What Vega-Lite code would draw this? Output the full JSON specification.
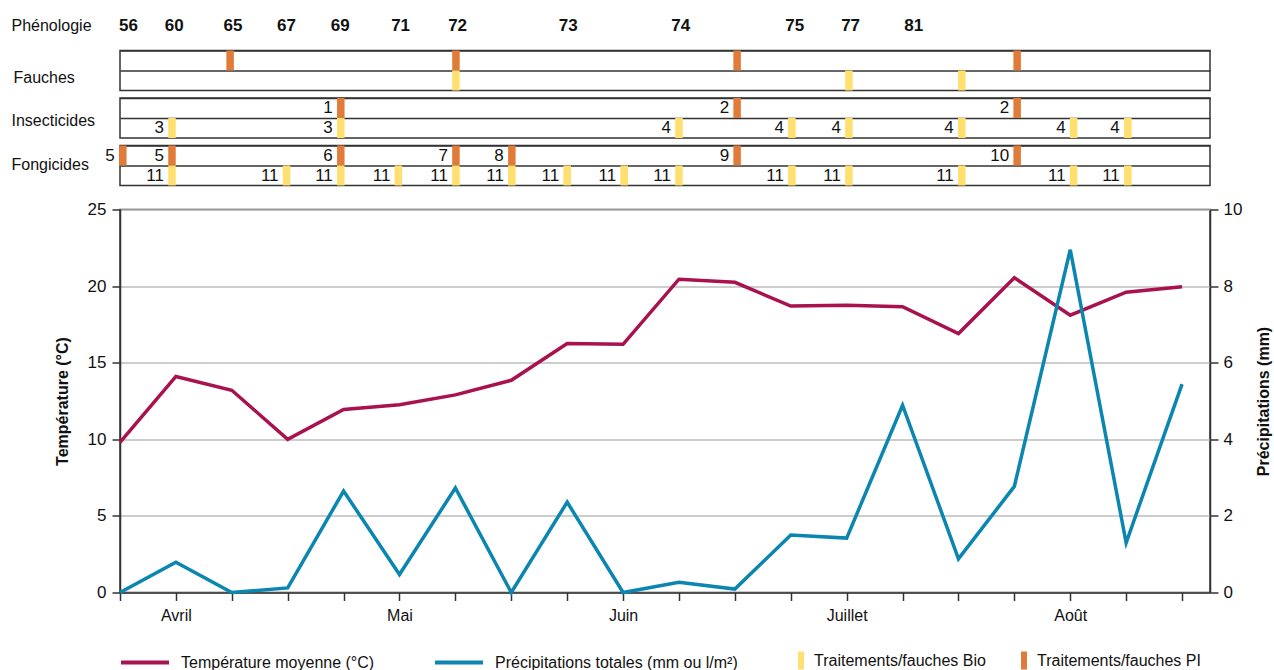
{
  "$schema": "https://vega.github.io/schema/vega-lite/v6.json",
  "padding": {"left": 10, "top": 8, "right": 5, "bottom": 5},
  "bounds": "flush",
  "spacing": 7.5,
  "config": {
    "font": "Liberation Sans",
    "view": {"stroke": "#333", "strokeWidth": 1.5},
    "axis": {"labelColor": "#111", "titleColor": "#111", "domainColor": "#333", "tickColor": "#333"},
    "legend": {"labelColor": "#111"}
  },
  "datasets": {
    "meteo": [
      {"semaine": 0, "temperature": 9.8, "precipitation": 0.0},
      {"semaine": 1, "temperature": 14.1, "precipitation": 0.79},
      {"semaine": 2, "temperature": 13.2, "precipitation": 0.0},
      {"semaine": 3, "temperature": 10.0, "precipitation": 0.12},
      {"semaine": 4, "temperature": 11.95, "precipitation": 2.65},
      {"semaine": 5, "temperature": 12.25, "precipitation": 0.47},
      {"semaine": 6, "temperature": 12.9, "precipitation": 2.73},
      {"semaine": 7, "temperature": 13.85, "precipitation": 0.0},
      {"semaine": 8, "temperature": 16.25, "precipitation": 2.36},
      {"semaine": 9, "temperature": 16.2, "precipitation": 0.0},
      {"semaine": 10, "temperature": 20.45, "precipitation": 0.27},
      {"semaine": 11, "temperature": 20.25, "precipitation": 0.09},
      {"semaine": 12, "temperature": 18.7, "precipitation": 1.5},
      {"semaine": 13, "temperature": 18.75, "precipitation": 1.42},
      {"semaine": 14, "temperature": 18.65, "precipitation": 4.89},
      {"semaine": 15, "temperature": 16.9, "precipitation": 0.88},
      {"semaine": 16, "temperature": 20.55, "precipitation": 2.77},
      {"semaine": 17, "temperature": 18.1, "precipitation": 8.95},
      {"semaine": 18, "temperature": 19.6, "precipitation": 1.3},
      {"semaine": 19, "temperature": 19.95, "precipitation": 5.44}
    ],
    "phenologie": [
      {"semaine": 0.15, "stade": "56"},
      {"semaine": 0.97, "stade": "60"},
      {"semaine": 2.02, "stade": "65"},
      {"semaine": 2.98, "stade": "67"},
      {"semaine": 3.94, "stade": "69"},
      {"semaine": 5.02, "stade": "71"},
      {"semaine": 6.04, "stade": "72"},
      {"semaine": 8.02, "stade": "73"},
      {"semaine": 10.03, "stade": "74"},
      {"semaine": 12.07, "stade": "75"},
      {"semaine": 13.07, "stade": "77"},
      {"semaine": 14.2, "stade": "81"}
    ],
    "traitements": [
      {"categorie": "Fauches", "type": "PI", "semaine": 1.97, "produit": ""},
      {"categorie": "Fauches", "type": "PI", "semaine": 6.01, "produit": ""},
      {"categorie": "Fauches", "type": "PI", "semaine": 11.04, "produit": ""},
      {"categorie": "Fauches", "type": "PI", "semaine": 16.05, "produit": ""},
      {"categorie": "Fauches", "type": "Bio", "semaine": 6.01, "produit": ""},
      {"categorie": "Fauches", "type": "Bio", "semaine": 13.04, "produit": ""},
      {"categorie": "Fauches", "type": "Bio", "semaine": 15.06, "produit": ""},
      {"categorie": "Insecticides", "type": "PI", "semaine": 3.95, "produit": "1"},
      {"categorie": "Insecticides", "type": "PI", "semaine": 11.04, "produit": "2"},
      {"categorie": "Insecticides", "type": "PI", "semaine": 16.05, "produit": "2"},
      {"categorie": "Insecticides", "type": "Bio", "semaine": 0.93, "produit": "3"},
      {"categorie": "Insecticides", "type": "Bio", "semaine": 3.95, "produit": "3"},
      {"categorie": "Insecticides", "type": "Bio", "semaine": 10.0, "produit": "4"},
      {"categorie": "Insecticides", "type": "Bio", "semaine": 12.02, "produit": "4"},
      {"categorie": "Insecticides", "type": "Bio", "semaine": 13.04, "produit": "4"},
      {"categorie": "Insecticides", "type": "Bio", "semaine": 15.06, "produit": "4"},
      {"categorie": "Insecticides", "type": "Bio", "semaine": 17.06, "produit": "4"},
      {"categorie": "Insecticides", "type": "Bio", "semaine": 18.03, "produit": "4"},
      {"categorie": "Fongicides", "type": "PI", "semaine": 0.05, "produit": "5"},
      {"categorie": "Fongicides", "type": "PI", "semaine": 0.93, "produit": "5"},
      {"categorie": "Fongicides", "type": "PI", "semaine": 3.95, "produit": "6"},
      {"categorie": "Fongicides", "type": "PI", "semaine": 6.01, "produit": "7"},
      {"categorie": "Fongicides", "type": "PI", "semaine": 7.01, "produit": "8"},
      {"categorie": "Fongicides", "type": "PI", "semaine": 11.04, "produit": "9"},
      {"categorie": "Fongicides", "type": "PI", "semaine": 16.05, "produit": "10"},
      {"categorie": "Fongicides", "type": "Bio", "semaine": 0.93, "produit": "11"},
      {"categorie": "Fongicides", "type": "Bio", "semaine": 2.98, "produit": "11"},
      {"categorie": "Fongicides", "type": "Bio", "semaine": 3.95, "produit": "11"},
      {"categorie": "Fongicides", "type": "Bio", "semaine": 4.98, "produit": "11"},
      {"categorie": "Fongicides", "type": "Bio", "semaine": 6.01, "produit": "11"},
      {"categorie": "Fongicides", "type": "Bio", "semaine": 7.01, "produit": "11"},
      {"categorie": "Fongicides", "type": "Bio", "semaine": 8.0, "produit": "11"},
      {"categorie": "Fongicides", "type": "Bio", "semaine": 9.02, "produit": "11"},
      {"categorie": "Fongicides", "type": "Bio", "semaine": 10.0, "produit": "11"},
      {"categorie": "Fongicides", "type": "Bio", "semaine": 12.02, "produit": "11"},
      {"categorie": "Fongicides", "type": "Bio", "semaine": 13.04, "produit": "11"},
      {"categorie": "Fongicides", "type": "Bio", "semaine": 15.06, "produit": "11"},
      {"categorie": "Fongicides", "type": "Bio", "semaine": 17.06, "produit": "11"},
      {"categorie": "Fongicides", "type": "Bio", "semaine": 18.03, "produit": "11"}
    ]
  },
  "vconcat": [
    {
      "width": 1090,
      "height": 35,
      "view": {"stroke": null},
      "data": {"name": "phenologie"},
      "mark": {"type": "text", "fontSize": 17, "fontWeight": "bold", "baseline": "middle", "color": "#111"},
      "encoding": {
        "x": {"field": "semaine", "type": "quantitative", "scale": {"domain": [0, 19.5], "nice": false, "zero": false}, "axis": null},
        "y": {"datum": "Phénologie", "type": "nominal", "axis": {"title": null, "labels": true, "ticks": false, "tickSize": 0, "domain": false, "labelAlign": "left", "labelPadding": 109, "labelFontSize": 16, "labelBaseline": "middle"}},
        "text": {"field": "stade"}
      }
    },
    {
      "width": 1090,
      "height": 40,
      "data": {"name": "traitements"},
      "transform": [{"filter": "datum.categorie === 'Fauches'"}],
      "encoding": {
        "x": {"field": "semaine", "type": "quantitative", "scale": {"domain": [0, 19.5], "nice": false, "zero": false}, "axis": null},
        "y": {"field": "type", "type": "nominal", "scale": {"type": "band", "domain": ["PI", "Bio"], "paddingInner": 0, "paddingOuter": 0}, "axis": {"title": "Fauches", "labels": false, "ticks": false, "domain": false, "grid": true, "gridColor": "#333", "gridWidth": 1.5, "bandPosition": 0, "titleAngle": 0, "titleAlign": "left", "titleBaseline": "middle", "titleX": -107, "titleY": 27, "titleFontSize": 16, "titleFontWeight": "normal"}}
      },
      "layer": [
        {"mark": {"type": "tick", "thickness": 7.5, "size": 20, "opacity": 1}, "encoding": {"color": {"field": "type", "type": "nominal", "scale": {"domain": ["Bio", "PI"], "range": ["#FFDF6E", "#E07B39"]}, "legend": {"title": null, "orient": "none", "legendX": 672, "legendY": 643.5, "direction": "horizontal", "symbolType": "M-0.33,-1H0.33V1H-0.33Z", "symbolSize": 324, "symbolStrokeWidth": 0, "symbolOpacity": 1, "labelExpr": "'Traitements/fauches ' + datum.label", "labelFontSize": 16, "labelOffset": 4, "labelLimit": 400, "columnPadding": 29}}}},
        {"mark": {"type": "text", "align": "right", "baseline": "middle", "dx": -8, "fontSize": 17, "color": "#111"}, "encoding": {"text": {"field": "produit"}}}
      ]
    },
    {
      "width": 1090,
      "height": 40,
      "data": {"name": "traitements"},
      "transform": [{"filter": "datum.categorie === 'Insecticides'"}],
      "encoding": {
        "x": {"field": "semaine", "type": "quantitative", "scale": {"domain": [0, 19.5], "nice": false, "zero": false}, "axis": null},
        "y": {"field": "type", "type": "nominal", "scale": {"type": "band", "domain": ["PI", "Bio"], "paddingInner": 0, "paddingOuter": 0}, "axis": {"title": "Insecticides", "labels": false, "ticks": false, "domain": false, "grid": true, "gridColor": "#333", "gridWidth": 1.5, "bandPosition": 0, "titleAngle": 0, "titleAlign": "left", "titleBaseline": "middle", "titleX": -109, "titleY": 22, "titleFontSize": 16, "titleFontWeight": "normal"}}
      },
      "layer": [
        {"mark": {"type": "tick", "thickness": 7.5, "size": 20, "opacity": 1}, "encoding": {"color": {"field": "type", "type": "nominal", "scale": {"domain": ["Bio", "PI"], "range": ["#FFDF6E", "#E07B39"]}}}},
        {"mark": {"type": "text", "align": "right", "baseline": "middle", "dx": -8, "fontSize": 17, "color": "#111"}, "encoding": {"text": {"field": "produit"}}}
      ]
    },
    {
      "width": 1090,
      "height": 40,
      "data": {"name": "traitements"},
      "transform": [{"filter": "datum.categorie === 'Fongicides'"}],
      "encoding": {
        "x": {"field": "semaine", "type": "quantitative", "scale": {"domain": [0, 19.5], "nice": false, "zero": false}, "axis": null},
        "y": {"field": "type", "type": "nominal", "scale": {"type": "band", "domain": ["PI", "Bio"], "paddingInner": 0, "paddingOuter": 0}, "axis": {"title": "Fongicides", "labels": false, "ticks": false, "domain": false, "grid": true, "gridColor": "#333", "gridWidth": 1.5, "bandPosition": 0, "titleAngle": 0, "titleAlign": "left", "titleBaseline": "middle", "titleX": -109, "titleY": 19, "titleFontSize": 16, "titleFontWeight": "normal"}}
      },
      "layer": [
        {"mark": {"type": "tick", "thickness": 7.5, "size": 20, "opacity": 1}, "encoding": {"color": {"field": "type", "type": "nominal", "scale": {"domain": ["Bio", "PI"], "range": ["#FFDF6E", "#E07B39"]}}}},
        {"mark": {"type": "text", "align": "right", "baseline": "middle", "dx": -8, "fontSize": 17, "color": "#111"}, "encoding": {"text": {"field": "produit"}}}
      ]
    },
    {
      "width": 1090,
      "height": 9,
      "view": {"stroke": null},
      "data": {"values": []},
      "mark": "point",
      "encoding": {}
    },
    {
      "width": 1090,
      "height": 383,
      "data": {"name": "meteo"},
      "encoding": {
        "x": {"field": "semaine", "type": "quantitative", "scale": {"domain": [0, 19.5], "nice": false, "zero": false}, "axis": {"values": [0,1,2,3,4,5,6,7,8,9,10,11,12,13,14,15,16,17,18,19], "tickSize": 8, "tickWidth": 1.5, "domainWidth": 1.5, "grid": false, "title": null, "labelExpr": "datum.value == 1 ? 'Avril' : datum.value == 5 ? 'Mai' : datum.value == 9 ? 'Juin' : datum.value == 13 ? 'Juillet' : datum.value == 17 ? 'Août' : ''", "labelFontSize": 16, "labelPadding": 7, "labelFlush": false, "labelOverlap": false, "labelBound": false}}
      },
      "layer": [
        {
          "mark": {"type": "line", "strokeWidth": 3.5},
          "encoding": {
            "y": {"field": "temperature", "type": "quantitative", "scale": {"domain": [0, 25], "nice": false}, "axis": {"orient": "left", "values": [0,5,10,15,20,25], "grid": true, "gridColor": "#bdbdbd", "gridWidth": 1.5, "tickSize": 8, "tickWidth": 1.5, "domainWidth": 1.5, "labelFontSize": 17, "labelPadding": 6, "title": "Température (°C)", "titleFontSize": 16, "titleFontWeight": "bold", "titlePadding": 17}},
            "stroke": {"datum": "Température moyenne (°C)", "type": "nominal", "scale": {"domain": ["Température moyenne (°C)", "Précipitations totales (mm ou l/m²)"], "range": ["#A8124F", "#0A86B0"]}, "legend": {"title": null, "orient": "none", "legendX": -1, "legendY": 628.5, "direction": "horizontal", "symbolType": "stroke", "symbolSize": 2304, "symbolStrokeWidth": 4, "labelFontSize": 16, "labelOffset": 10, "labelLimit": 400, "columnPadding": 52}}
          }
        },
        {
          "mark": {"type": "line", "strokeWidth": 3.5},
          "encoding": {
            "y": {"field": "precipitation", "type": "quantitative", "scale": {"domain": [0, 10], "nice": false}, "axis": {"orient": "right", "values": [0,2,4,6,8,10], "grid": false, "tickSize": 8, "tickWidth": 1.5, "domainWidth": 1.5, "labelFontSize": 17, "labelPadding": 5, "title": "Précipitations (mm)", "titleAngle": -90, "titleFontSize": 16, "titleFontWeight": "bold", "titlePadding": 30}},
            "stroke": {"datum": "Précipitations totales (mm ou l/m²)", "type": "nominal"}
          }
        }
      ],
      "resolve": {"scale": {"y": "independent"}}
    }
  ]
}
